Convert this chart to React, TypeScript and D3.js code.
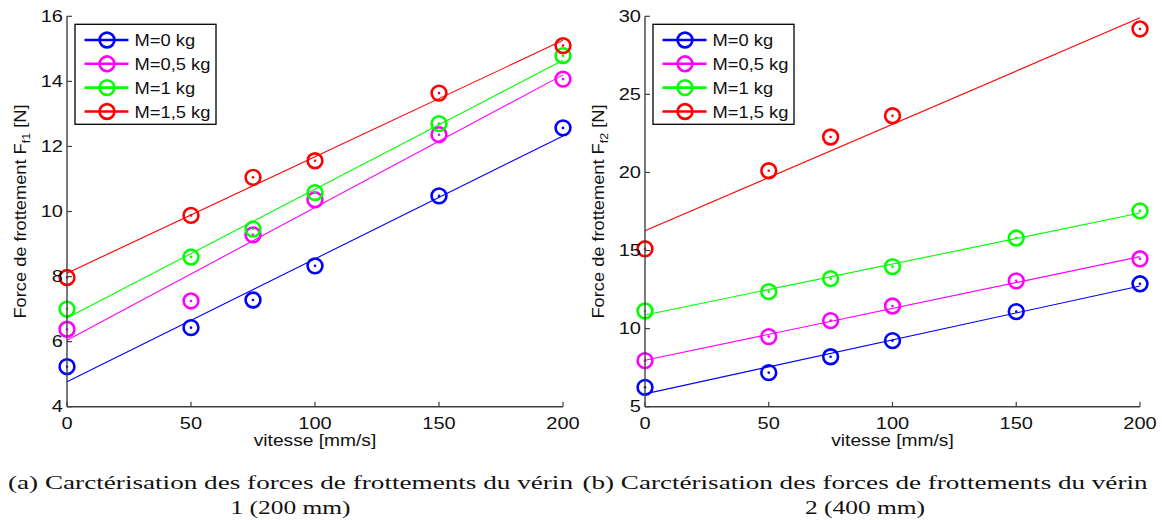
import React from 'react';
import * as d3 from 'd3';

// ---- data ----
const speeds = [0, 50, 75, 100, 150, 200];
const seriesLabels = ['M=0 kg', 'M=0,5 kg', 'M=1 kg', 'M=1,5 kg'];
const seriesColors = ['#0000ff', '#ff00ff', '#00ff00', '#ff0000'];

// Vérin 1 (200 mm)
const v1M0 = [5.23, 6.43, 7.28, 8.33, 10.48, 12.57];
const v1M05 = [6.38, 7.25, 9.28, 10.36, 12.36, 14.07];
const v1M1 = [7.0, 8.6, 9.46, 10.58, 12.7, 14.79];
const v1M15 = [7.97, 9.88, 11.05, 11.56, 13.64, 15.1];

// Vérin 2 (400 mm)
const v2M0 = [6.24, 7.18, 8.2, 9.23, 11.09, 12.87];
const v2M05 = [7.95, 9.49, 10.51, 11.45, 13.06, 14.47];
const v2M1 = [11.13, 12.37, 13.2, 13.97, 15.8, 17.54];
const v2M15: (number | null)[] = [15.11, 20.11, 22.27, 23.63, null, 29.19];

const xTicks = [0, 50, 100, 150, 200];
const yTicks1 = [4, 6, 8, 10, 12, 14, 16];
const yTicks2 = [5, 10, 15, 20, 25, 30];

const xLabel = 'vitesse [mm/s]';
const caption1 = ['(a) Carctérisation des forces de frottements du vérin', '1 (200 mm)'];
const caption2 = ['(b) Carctérisation des forces de frottements du vérin', '2 (400 mm)'];

// ---- helpers ----
function fit(xs: number[], ys: (number | null)[]) {
  const pts = xs.map((x, i) => [x, ys[i]] as [number, number | null]).filter((p) => p[1] != null) as [number, number][];
  const mx = d3.mean(pts, (p) => p[0])!;
  const my = d3.mean(pts, (p) => p[1])!;
  const sxy = d3.sum(pts, (p) => (p[0] - mx) * (p[1] - my));
  const sxx = d3.sum(pts, (p) => (p[0] - mx) ** 2);
  const b = sxy / sxx;
  const a = my - b * mx;
  return (x: number) => a + b * x;
}

const FONT = '"Liberation Sans", Arial, Helvetica, sans-serif';
const AXIS = '#404040';

interface PanelProps {
  x0: number;
  x1: number;
  yTop: number;
  yBot: number;
  yDomain: [number, number];
  yTicks: number[];
  series: (number | null)[][];
  sub: string;
}

function Panel({ x0, x1, yTop, yBot, yDomain, yTicks, series, sub }: PanelProps) {
  const x = d3.scaleLinear().domain([0, 200]).range([x0, x1]);
  const y = d3.scaleLinear().domain(yDomain).range([yBot, yTop]);
  const line = d3.line<number>().x((d) => x(d[0] as any)).y((d) => y(d[1] as any));
  const xDom = x.domain();
  const legX = x0 + 8;
  const legY = yTop + 8;
  const legW = 141;
  const legH = 100;
  const rowY = [40, 63.8, 87.6, 111.5];
  return (
    <g>
      {/* fit lines + markers */}
      {series.map((vals, si) => {
        const f = fit(speeds, vals);
        const pts: any = [[xDom[0], f(xDom[0])], [xDom[1], f(xDom[1])]];
        return (
          <g key={si}>
            <path d={(line as any)(pts)} stroke={seriesColors[si]} strokeWidth={1.1} fill="none" />
            {vals.map((v, i) =>
              v == null ? null : (
                <g key={i}>
                  <circle cx={x(speeds[i])} cy={y(v)} r={7.4} fill="none" stroke={seriesColors[si]} strokeWidth={2.6} />
                  <circle cx={x(speeds[i])} cy={y(v)} r={1.3} fill={seriesColors[si]} />
                </g>
              )
            )}
          </g>
        );
      })}
      {/* axes */}
      <line x1={x0} x2={x0} y1={yTop} y2={yBot} stroke={AXIS} strokeWidth={1.4} />
      <line x1={x0} x2={x1} y1={yBot} y2={yBot} stroke={AXIS} strokeWidth={1.4} />
      {yTicks.map((t) => (
        <g key={'y' + t}>
          <line x1={x0} x2={x0 + 5} y1={y(t)} y2={y(t)} stroke={AXIS} strokeWidth={1.2} />
          <text
            transform={`translate(${x0 - 4},${y(t) + 5.5}) scale(1.25,1)`}
            textAnchor="end"
            fontFamily={FONT}
            fontSize={16}
            fill="#111"
          >
            {t}
          </text>
        </g>
      ))}
      {xTicks.map((t) => (
        <g key={'x' + t}>
          <line x1={x(t)} x2={x(t)} y1={yBot} y2={yBot - 5} stroke={AXIS} strokeWidth={1.2} />
          <text
            transform={`translate(${x(t)},${yBot + 22.5}) scale(1.25,1)`}
            textAnchor="middle"
            fontFamily={FONT}
            fontSize={16}
            fill="#111"
          >
            {t}
          </text>
        </g>
      ))}
      {/* axis labels */}
      <text
        transform={`translate(${(x0 + x1) / 2},${yBot + 39}) scale(1.2,1)`}
        textAnchor="middle"
        fontFamily={FONT}
        fontSize={16}
        fill="#111"
      >
        {xLabel}
      </text>
      <text
        transform={`translate(${x0 - 41},${(yTop + yBot) / 2}) rotate(-90) scale(1.14,1)`}
        textAnchor="middle"
        fontFamily={FONT}
        fontSize={16}
        fill="#111"
      >
        Force de frottement F
        <tspan fontSize={11} dy={4}>{sub}</tspan>
        <tspan dy={-4}> [N]</tspan>
      </text>
      {/* legend */}
      <rect x={legX} y={legY} width={legW} height={legH} fill="#fff" stroke="#000" strokeWidth={1.3} />
      {seriesLabels.map((lab, i) => (
        <g key={lab}>
          <line x1={legX + 9.5} x2={legX + 53.5} y1={rowY[i]} y2={rowY[i]} stroke={seriesColors[i]} strokeWidth={2.6} />
          <circle cx={legX + 32} cy={rowY[i]} r={7.4} fill="none" stroke={seriesColors[i]} strokeWidth={2.6} />
          <text
            transform={`translate(${legX + 59.5},${rowY[i] + 6}) scale(1.08,1)`}
            fontFamily={FONT}
            fontSize={17}
            fill="#111"
          >
            {lab}
          </text>
        </g>
      ))}
    </g>
  );
}

function Caption({ cx, lines }: { cx: number; lines: string[] }) {
  return (
    <g fontFamily='"Liberation Serif", "DejaVu Serif", serif' fontSize={18} fill="#111">
      <text x={cx} y={489} textAnchor="middle" textLength={565} lengthAdjust="spacingAndGlyphs">
        {lines[0]}
      </text>
      <text x={cx} y={514} textAnchor="middle" textLength={120} lengthAdjust="spacingAndGlyphs">
        {lines[1]}
      </text>
    </g>
  );
}

export default function App() {
  return (
    <svg width={1162} height={520} style={{ position: 'absolute', left: 0, top: 0, background: '#fff' }}>
      <rect x={0} y={0} width={1162} height={520} fill="#fff" />
      <Panel
        x0={67}
        x1={563}
        yTop={16.3}
        yBot={406.7}
        yDomain={[4, 16]}
        yTicks={yTicks1}
        series={[v1M0, v1M05, v1M1, v1M15]}
        sub="f1"
      />
      <Panel
        x0={645}
        x1={1140}
        yTop={16.3}
        yBot={406.7}
        yDomain={[5, 30]}
        yTicks={yTicks2}
        series={[v2M0, v2M05, v2M1, v2M15]}
        sub="f2"
      />
      <Caption cx={290.5} lines={caption1} />
      <Caption cx={865} lines={caption2} />
    </svg>
  );
}
